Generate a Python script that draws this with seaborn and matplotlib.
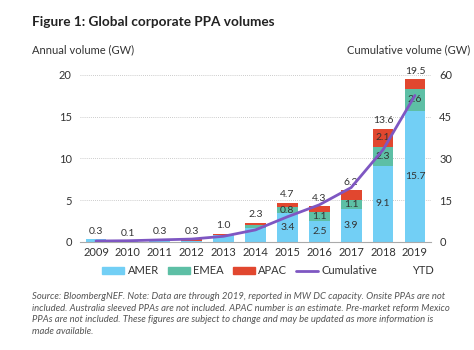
import matplotlib
matplotlib.use("Agg")
import matplotlib.pyplot as plt
import seaborn as sns
import pandas as pd
import numpy as np
from matplotlib.patches import Patch
from matplotlib.lines import Line2D

years = ["2009", "2010", "2011", "2012", "2013", "2014", "2015", "2016", "2017", "2018", "2019"]
amer = [0.3, 0.1, 0.3, 0.05, 0.8, 1.6, 3.4, 2.5, 3.9, 9.1, 15.7]
emea = [0.0, 0.0, 0.0, 0.0, 0.0, 0.4, 0.8, 1.1, 1.1, 2.3, 2.6]
apac = [0.0, 0.0, 0.0, 0.25, 0.2, 0.3, 0.5, 0.7, 1.2, 2.1, 1.2]
totals = [0.3, 0.1, 0.3, 0.3, 1.0, 2.3, 4.7, 4.3, 6.2, 13.6, 19.5]
cumulative = [0.3, 0.4, 0.7, 1.0, 2.0, 4.3, 9.0, 13.3, 19.5, 33.1, 52.6]
amer_labels = ["", "", "", "", "", "", "3.4", "2.5", "3.9", "9.1", "15.7"]
emea_labels = ["", "", "", "", "", "", "0.8", "1.1", "1.1", "2.3", "2.6"]
apac_labels = ["", "", "", "", "", "", "", "", "", "2.1", ""]

C_AMER = "#72CFF5"
C_EMEA = "#5DBFA5"
C_APAC = "#E1472F"
C_CUM = "#7E57C2"
TXT = "#333333"

sns.set_theme(style="white")
plt.rcParams["font.family"] = ["Lato", "DejaVu Sans"]

fig = plt.figure(figsize=(4.74, 3.5), dpi=100)
ax = fig.add_axes([0.169, 0.309, 0.740, 0.477])

df = pd.DataFrame({"year": years, "AMER": amer, "EMEA": emea, "APAC": apac})
x = np.arange(len(years))
bw = 0.65
amer_a = np.array(amer)
emea_a = np.array(emea)
apac_a = np.array(apac)

sns.barplot(data=df, x="year", y="AMER", color=C_AMER, width=bw, ax=ax,
            saturation=1, linewidth=0)
ax.bar(x, emea_a, bottom=amer_a, width=bw, color=C_EMEA, linewidth=0)
ax.bar(x, apac_a, bottom=amer_a + emea_a, width=bw, color=C_APAC, linewidth=0)

ax.set_xlim(-0.45, 10.5)
ax.set_ylim(0, 20)
ax.set_yticks([0, 5, 10, 15, 20])
ax.set_xlabel("")
ax.set_ylabel("")
for y in [5, 10, 15, 20]:
    ax.axhline(y, color="#BBBBBB", lw=0.6, ls=(0, (1, 1.5)), zorder=0)

for s in ["top", "right", "left"]:
    ax.spines[s].set_visible(False)
ax.spines["bottom"].set_color("#AAAAAA")
ax.spines["bottom"].set_linewidth(0.8)
ax.tick_params(axis="x", length=0, pad=4, labelsize=8, labelcolor=TXT)
ax.tick_params(axis="y", length=0, pad=6, labelsize=8, labelcolor=TXT)
ax.set_xticks(x, years)
ax.set_xticks(np.arange(-0.5, 11, 1), minor=True)
ax.tick_params(axis="x", which="minor", length=3, color="#AAAAAA", width=0.8, direction="out")

# labels
for i in range(len(years)):
    ax.text(x[i], totals[i] + 0.4, f"{totals[i]:.1f}", ha="center", va="bottom",
            fontsize=7.5, color=TXT)
    if amer_labels[i]:
        ax.text(x[i], amer[i] / 2, amer_labels[i], ha="center", va="center", fontsize=7.5, color=TXT)
    if emea_labels[i]:
        ax.text(x[i], amer[i] + emea[i] / 2, emea_labels[i], ha="center", va="center", fontsize=7.5, color=TXT)
    if apac_labels[i]:
        ax.text(x[i], amer[i] + emea[i] + apac[i] / 2, apac_labels[i], ha="center", va="center", fontsize=7.5, color=TXT)

ax2 = ax.twinx()
sns.lineplot(x=x, y=cumulative, ax=ax2, color=C_CUM, lw=2, sort=False)
ax2.set_ylim(0, 60)
ax2.set_yticks([0, 15, 30, 45, 60])
for s in ["top", "right", "left", "bottom"]:
    ax2.spines[s].set_visible(False)
ax2.tick_params(axis="y", length=0, pad=6, labelsize=8, labelcolor=TXT)
ax2.grid(False)
ax.grid(False)

fig.text(0.068, 0.937, "Figure 1: Global corporate PPA volumes", fontsize=9.8,
         fontweight="bold", color="#222222", va="center", ha="left")
fig.text(0.068, 0.857, "Annual volume (GW)", fontsize=8, color=TXT, va="center", ha="left")
fig.text(0.992, 0.857, "Cumulative volume (GW)", fontsize=8, color=TXT, va="center", ha="right")

handles = [Patch(color=C_AMER, label="AMER"), Patch(color=C_EMEA, label="EMEA"),
           Patch(color=C_APAC, label="APAC"), Line2D([], [], color=C_CUM, lw=2, label="Cumulative"),
           Patch(color="white", alpha=0, label="YTD")]
fig.legend(handles=handles, loc="center", bbox_to_anchor=(0.565, 0.226), ncol=5, frameon=False,
           fontsize=8, handlelength=2.0, handleheight=0.6, columnspacing=0.8, handletextpad=0.3,
           labelcolor=TXT)

note = ("Source: BloombergNEF. Note: Data are through 2019, reported in MW DC capacity. Onsite PPAs are not\n"
        "included. Australia sleeved PPAs are not included. APAC number is an estimate. Pre-market reform Mexico\n"
        "PPAs are not included. These figures are subject to change and may be updated as more information is\n"
        "made available.")
fig.text(0.068, 0.103, note, fontsize=6.8, style="italic", color="#555555", va="center", ha="left",
         linespacing=1.4)

fig.savefig("out.png", dpi=100, facecolor="white")
